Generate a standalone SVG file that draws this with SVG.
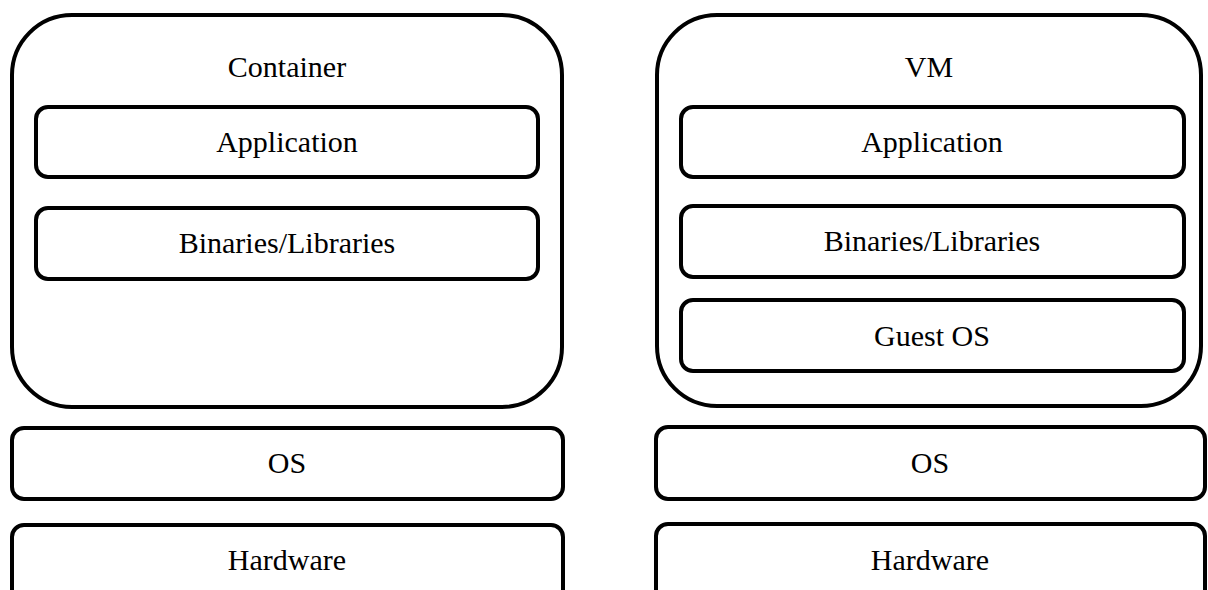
<svg xmlns="http://www.w3.org/2000/svg" width="1208" height="590" viewBox="0 0 1208 590">
  <style>
    .box { fill: #ffffff; stroke: #000000; stroke-width: 4; }
    .lbl { font-family: "Liberation Serif", "Times New Roman", serif; font-size: 30px; fill: #000000; text-anchor: middle; }
  </style>
  <rect width="1208" height="590" fill="#ffffff"/>

  <!-- Container stack -->
  <g id="container">
    <rect class="box" x="12" y="15" width="550" height="392" rx="60" ry="60"/>
    <text class="lbl" x="287" y="77">Container</text>
  </g>
  <g id="container-app">
    <rect class="box" x="36" y="107" width="502" height="70" rx="12" ry="12"/>
    <text class="lbl" x="287" y="152">Application</text>
  </g>
  <g id="container-bins">
    <rect class="box" x="36" y="208" width="502" height="71" rx="12" ry="12"/>
    <text class="lbl" x="287" y="253">Binaries/Libraries</text>
  </g>
  <g id="container-os">
    <rect class="box" x="12" y="428" width="551" height="71" rx="12" ry="12"/>
    <text class="lbl" x="287" y="473">OS</text>
  </g>
  <g id="container-hw">
    <rect class="box" x="12" y="525" width="551" height="90" rx="12" ry="12"/>
    <text class="lbl" x="287" y="570">Hardware</text>
  </g>

  <!-- VM stack -->
  <g id="vm">
    <rect class="box" x="657" y="15" width="544" height="391" rx="60" ry="60"/>
    <text class="lbl" x="929" y="77">VM</text>
  </g>
  <g id="vm-app">
    <rect class="box" x="681" y="107" width="503" height="70" rx="12" ry="12"/>
    <text class="lbl" x="932" y="152">Application</text>
  </g>
  <g id="vm-bins">
    <rect class="box" x="681" y="206" width="503" height="71" rx="12" ry="12"/>
    <text class="lbl" x="932" y="251">Binaries/Libraries</text>
  </g>
  <g id="vm-guest-os">
    <rect class="box" x="681" y="300" width="503" height="71" rx="12" ry="12"/>
    <text class="lbl" x="932" y="346">Guest OS</text>
  </g>
  <g id="vm-os">
    <rect class="box" x="656" y="427" width="549" height="72" rx="12" ry="12"/>
    <text class="lbl" x="930" y="473">OS</text>
  </g>
  <g id="vm-hw">
    <rect class="box" x="656" y="524" width="549" height="90" rx="12" ry="12"/>
    <text class="lbl" x="930" y="570">Hardware</text>
  </g>

  <g id="connectors"/>
</svg>
